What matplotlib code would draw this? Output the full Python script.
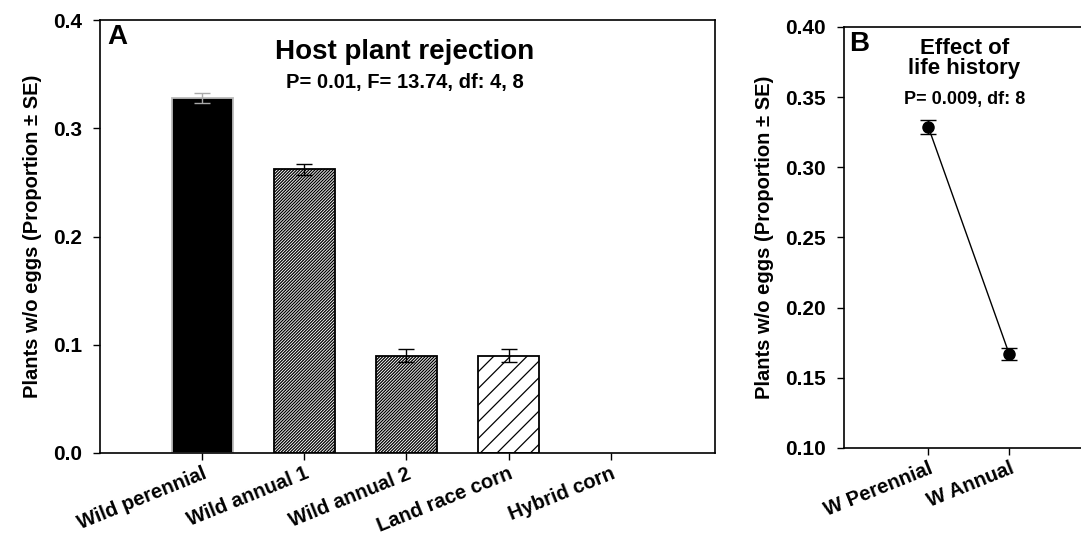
import matplotlib
matplotlib.use("Agg")
import matplotlib.pyplot as plt
import numpy as np

plt.rcParams['font.family'] = ['Liberation Sans', 'DejaVu Sans']
plt.rcParams['font.weight'] = 'bold'
plt.rcParams['hatch.linewidth'] = 0.9

# Panel A data
categories = ["Wild perennial", "Wild annual 1", "Wild annual 2", "Land race corn", "Hybrid corn"]
proportions = [0.328, 0.262, 0.090, 0.090, 0.0]
se_values = [0.005, 0.005, 0.006, 0.006, 0.0]

# Panel B data
life_history = ["W Perennial", "W Annual"]
lh_means = [0.329, 0.167]
lh_se = [0.005, 0.0045]

W, H = 1081, 540
fig = plt.figure(figsize=(W / 100, H / 100), dpi=100)

def ax_rect(x0, y0, x1, y1):
    return [x0 / W, 1 - y1 / H, (x1 - x0) / W, (y1 - y0) / H]

TICK_FS = 15
XTICK_FS = 14.5
LAB_FS = 14.5

# ---------- Panel A ----------
axA = fig.add_axes(ax_rect(100, 20, 715, 453))
x = np.arange(len(categories))
faces = ['black', 'white', 'white', 'white', 'white']
hatches = [None, '/' * 11, '/' * 11, '//', None]
edges = ['#bbbbbb', 'black', 'black', 'black', 'black']
for i in range(len(categories)):
    if proportions[i] <= 0:
        continue
    axA.bar(x[i], proportions[i], width=0.6, color=faces[i], edgecolor=edges[i],
            hatch=hatches[i], linewidth=1.3, zorder=2)
    ecol = '#aaaaaa' if i == 0 else 'black'
    axA.errorbar(x[i], proportions[i], yerr=se_values[i], fmt='none', ecolor=ecol,
                 elinewidth=1.0, capsize=6, capthick=1.0, zorder=3)
axA.set_xlim(-1.0, 5.02)
axA.set_ylim(0, 0.4)
axA.set_yticks([0.0, 0.1, 0.2, 0.3, 0.4])
axA.set_yticklabels(['0.0', '0.1', '0.2', '0.3', '0.4'])
axA.set_xticks(x)
axA.set_xticklabels(categories, rotation=22, ha='right', rotation_mode='anchor')
axA.tick_params(axis='y', direction='out', length=5, width=1, labelsize=TICK_FS, pad=8)
axA.tick_params(axis='x', direction='out', length=5, width=1, labelsize=XTICK_FS, pad=3)
axA.set_ylabel('Plants w/o eggs (Proportion \u00b1 SE)', fontsize=LAB_FS, fontweight='bold', labelpad=8)
for s in axA.spines.values():
    s.set_linewidth(1.2)
axA.text(0.012, 0.99, 'A', transform=axA.transAxes, fontsize=20, fontweight='bold', va='top', ha='left')
axA.text(0.495, 0.925, 'Host plant rejection', transform=axA.transAxes, fontsize=20,
         fontweight='bold', ha='center', va='center')
axA.text(0.495, 0.855, 'P= 0.01, F= 13.74, df: 4, 8', transform=axA.transAxes, fontsize=14.5,
         fontweight='bold', ha='center', va='center')

# ---------- Panel B ----------
axB = fig.add_axes(ax_rect(844, 27, 1095, 448))
xb = np.arange(len(life_history))
axB.errorbar(xb, lh_means, yerr=lh_se, fmt='o-', color='black', markersize=8,
             linewidth=1.0, elinewidth=1.0, capsize=6, capthick=1.0)
axB.set_xlim(-1.04, 2.06)
axB.set_ylim(0.10, 0.40)
yt = [0.10, 0.15, 0.20, 0.25, 0.30, 0.35, 0.40]
axB.set_yticks(yt)
axB.set_yticklabels([f'{v:.2f}' for v in yt])
axB.set_xticks(xb)
axB.set_xticklabels(life_history, rotation=22, ha='right', rotation_mode='anchor')
axB.tick_params(axis='y', direction='out', length=5, width=1, labelsize=TICK_FS, pad=8)
axB.tick_params(axis='x', direction='out', length=5, width=1, labelsize=XTICK_FS, pad=3)
axB.set_ylabel('Plants w/o eggs (Proportion \u00b1 SE)', fontsize=LAB_FS, fontweight='bold', labelpad=8)
for s in axB.spines.values():
    s.set_linewidth(1.2)
axB.text(0.02, 0.99, 'B', transform=axB.transAxes, fontsize=20, fontweight='bold', va='top', ha='left')
axB.text(0.48, 0.925, 'Effect of\nlife history', transform=axB.transAxes, fontsize=16,
         fontweight='bold', ha='center', va='center', linespacing=0.95)
axB.text(0.48, 0.827, 'P= 0.009, df: 8', transform=axB.transAxes, fontsize=13,
         fontweight='bold', ha='center', va='center')

fig.savefig('out.png', dpi=100)
